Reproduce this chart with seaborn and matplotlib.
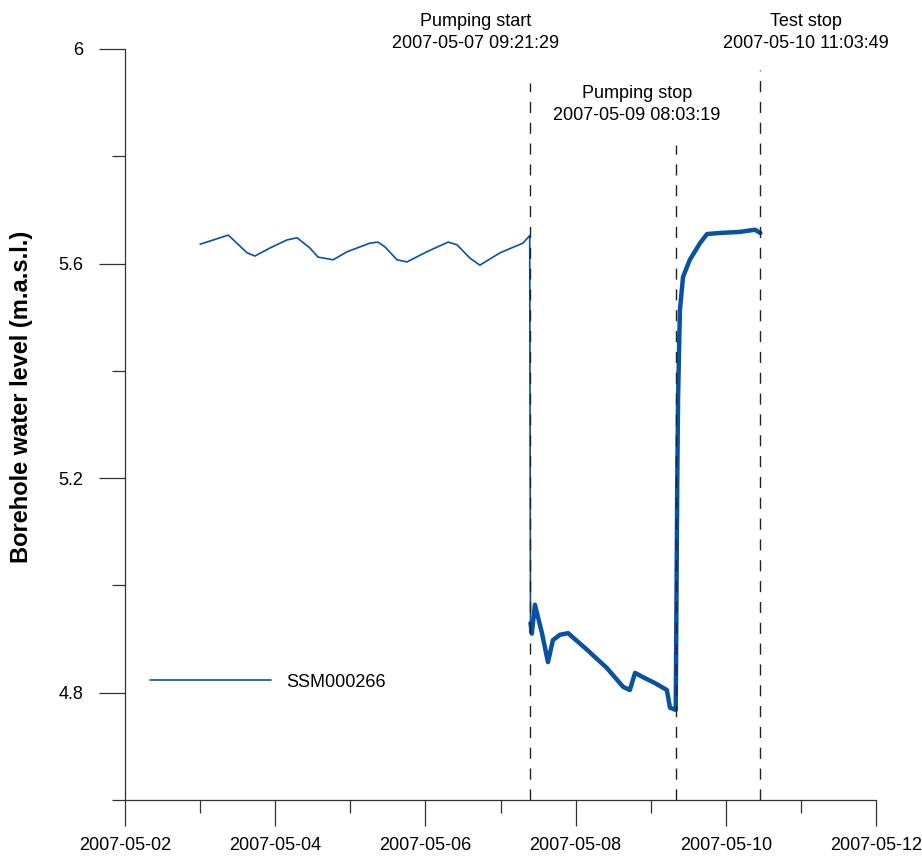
import pandas as pd
import seaborn as sns
import matplotlib.pyplot as plt
import matplotlib.dates as mdates

# Borehole water level readings
times = [
    '2007-05-03 00:00', '2007-05-03 09:00', '2007-05-03 15:00', '2007-05-03 17:30',
    '2007-05-03 22:20', '2007-05-04 03:45', '2007-05-04 07:00', '2007-05-04 11:05',
    '2007-05-04 13:40', '2007-05-04 18:30', '2007-05-04 23:00', '2007-05-05 06:15',
    '2007-05-05 08:50', '2007-05-05 11:05', '2007-05-05 14:55', '2007-05-05 18:05',
    '2007-05-06 00:30', '2007-05-06 07:15', '2007-05-06 10:05', '2007-05-06 14:15',
    '2007-05-06 17:25', '2007-05-06 23:50', '2007-05-07 07:10', '2007-05-07 09:20',
    '2007-05-07 09:25', '2007-05-07 09:35', '2007-05-07 10:00', '2007-05-07 11:00',
    '2007-05-07 13:15', '2007-05-07 15:10', '2007-05-07 16:45', '2007-05-07 19:00',
    '2007-05-07 21:35', '2007-05-08 03:40', '2007-05-08 10:00', '2007-05-08 15:10',
    '2007-05-08 17:20', '2007-05-08 19:00', '2007-05-08 21:30', '2007-05-09 01:20',
    '2007-05-09 05:10', '2007-05-09 06:10', '2007-05-09 08:00', '2007-05-09 08:30',
    '2007-05-09 08:45', '2007-05-09 09:20', '2007-05-09 10:20', '2007-05-09 12:30',
    '2007-05-09 15:45', '2007-05-09 18:00', '2007-05-09 22:10', '2007-05-10 04:30',
    '2007-05-10 09:20', '2007-05-10 11:03',
]
levels = [
    5.636, 5.653, 5.620, 5.614,
    5.629, 5.644, 5.648, 5.629,
    5.612, 5.607, 5.622, 5.638,
    5.640, 5.631, 5.607, 5.603,
    5.622, 5.640, 5.635, 5.610,
    5.597, 5.620, 5.638, 5.652,
    5.400, 4.930, 4.910, 4.964,
    4.911, 4.857, 4.898, 4.908,
    4.911, 4.880, 4.846, 4.811,
    4.805, 4.837, 4.829, 4.818,
    4.805, 4.772, 4.768, 5.200,
    5.350, 5.513, 5.575, 5.607,
    5.638, 5.655, 5.657, 5.659,
    5.663, 5.657,
]

# Test events
event_names = ['Pumping start', 'Pumping stop', 'Test stop']
event_times = ['2007-05-07 09:21:29', '2007-05-09 08:03:19', '2007-05-10 11:03:49']

df = pd.DataFrame({'time': pd.to_datetime(times), 'level': levels})
ev = pd.to_datetime(event_times)

sns.set_style('ticks')
plt.rcParams['font.family'] = ['Liberation Sans', 'DejaVu Sans']
plt.rcParams['font.size'] = 13
plt.rcParams['text.color'] = 'black'
plt.rcParams['axes.labelcolor'] = 'black'
plt.rcParams['xtick.color'] = 'black'
plt.rcParams['ytick.color'] = 'black'

fig = plt.figure(figsize=(9.22, 8.59), dpi=100)
ax = fig.add_axes([0.1356, 0.0687, 0.8145, 0.8743])

blue = '#0752a3'
# thin trace up to the end of the initial drawdown, heavier (noisier) trace afterwards
natural = df[df['time'] <= ev[0] + pd.Timedelta('15min')]
pumped = df[df['time'] >= natural['time'].max()]
sns.lineplot(data=natural, x='time', y='level', color=blue, lw=1.2, ax=ax, label='SSM000266')
sns.lineplot(data=pumped, x='time', y='level', color=blue, lw=3.2, ax=ax)

# Dashed event lines with labels
line_tops = [5.937, 5.821, 5.961]
label_shift = [-0.72, -0.52, 0.61]
label_y = [6.031, 5.897, 6.031]
for name, t, top, dx, ly in zip(event_names, ev, line_tops, label_shift, label_y):
    ax.vlines(t, 4.6, top, colors='#222222', lw=1.0, linestyles=(0, (8, 7)))
    ax.text(t + pd.Timedelta(days=dx), ly, f"{name}\n{t.strftime('%Y-%m-%d %H:%M:%S')}",
            ha='center', va='center', fontsize=13, linespacing=1.4, clip_on=False)

ax.set_xlim(pd.Timestamp('2007-05-02'), pd.Timestamp('2007-05-12'))
ax.set_ylim(4.6, 6.0)

ax.xaxis.set_major_locator(mdates.DayLocator(bymonthday=range(2, 32, 2)))
ax.xaxis.set_minor_locator(mdates.DayLocator())
ax.xaxis.set_major_formatter(mdates.DateFormatter('%Y-%m-%d'))
ax.set_yticks([4.8, 5.2, 5.6, 6.0], labels=['4.8', '5.2', '5.6', '6'])
ax.set_yticks([4.6, 5.0, 5.4, 5.8], minor=True)

ax.tick_params(which='major', direction='out', length=19, width=0.9, color='#333333',
               labelsize=13, labelcolor='black')
ax.tick_params(which='minor', direction='out', length=9.5, width=0.9, color='#333333')
ax.tick_params(axis='x', which='major', pad=8)
ax.tick_params(axis='y', which='major', pad=11)

sns.despine(ax=ax)
for side in ['left', 'bottom']:
    ax.spines[side].set_color('#333333')
    ax.spines[side].set_linewidth(0.9)

ax.set_xlabel('')
ax.set_ylabel('Borehole water level (m.a.s.l.)', fontsize=17, fontweight='bold', color='black')
ax.yaxis.set_label_coords(-0.1225, 0.537)

ax.legend(loc='center left', bbox_to_anchor=(0.0333, 0.157), frameon=False,
          handlelength=6.7, handletextpad=0.85, borderpad=0, borderaxespad=0, fontsize=13)

fig.savefig('out.png', dpi=100)
